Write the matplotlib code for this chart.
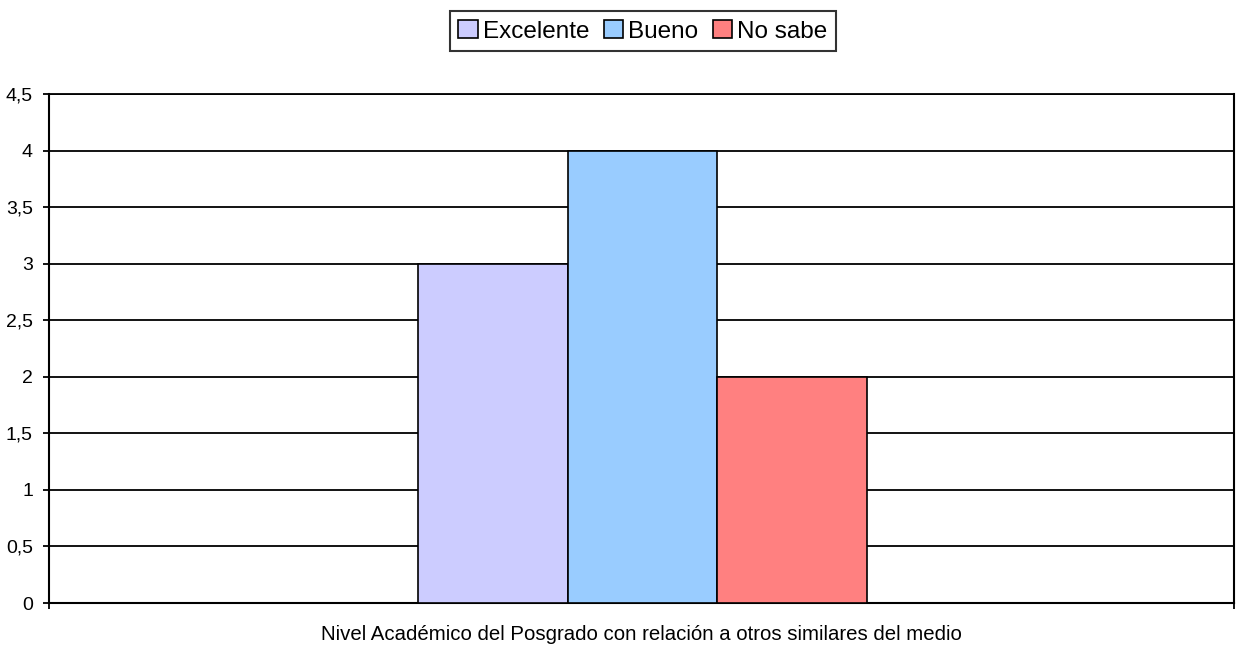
import matplotlib.pyplot as plt
import numpy as np

plt.rcParams['font.family'] = ['Liberation Sans', 'DejaVu Sans']

category = ["Nivel Académico del Posgrado con relación a otros similares del medio"]
series = ["Excelente", "Bueno", "No sabe"]
values = [3, 4, 2]
colors = ["#ccccff", "#99ccff", "#ff8080"]
yticks = [0, 0.5, 1, 1.5, 2, 2.5, 3, 3.5, 4, 4.5]
ytick_labels = ["0", "0,5", "1", "1,5", "2", "2,5", "3", "3,5", "4", "4,5"]

fig = plt.figure(figsize=(12.36, 6.5), dpi=100)
ax = fig.add_axes([0.0396, 0.0723, 0.9587, 0.7831])

width = 0.1262
offsets = (np.arange(len(series)) - 1) * width + 0.001
handles = []
for i, (name, v, c) in enumerate(zip(series, values, colors)):
    h = ax.bar(offsets[i], v, width, color=c, edgecolor='black', linewidth=1.2,
               label=name, zorder=3)
    handles.append(h)

ax.set_xlim(-0.5, 0.5)
ax.set_ylim(0, 4.5)
ax.set_yticks(yticks)
ax.set_yticklabels(ytick_labels, fontsize=14)
ax.yaxis.grid(True, color='black', linewidth=1.3, zorder=0)
ax.tick_params(axis='y', direction='out', length=4.5, width=1.3, pad=7)

ax.set_xticks([-0.5, 0.5])
ax.set_xticklabels(["", ""])
ax.tick_params(axis='x', direction='out', length=4.5, width=1.3)
ax.set_xticks([0], minor=True)
ax.set_xticklabels(category, minor=True, fontsize=14.7)
ax.tick_params(axis='x', which='minor', length=0, pad=16)

for side in ['left', 'bottom', 'right']:
    ax.spines[side].set_linewidth(1.5)
ax.spines['top'].set_linewidth(1.3)

leg = fig.legend(handles=handles, labels=series, loc='center', bbox_to_anchor=(0.52, 0.952),
                 ncol=3, fontsize=17.5, frameon=True, fancybox=False, handlelength=0.8,
                 handleheight=0.8, handletextpad=0.2, columnspacing=0.6, borderpad=0.35)
leg.get_frame().set_edgecolor('black')
leg.get_frame().set_linewidth(1.5)

fig.savefig('out.png', dpi=100)
